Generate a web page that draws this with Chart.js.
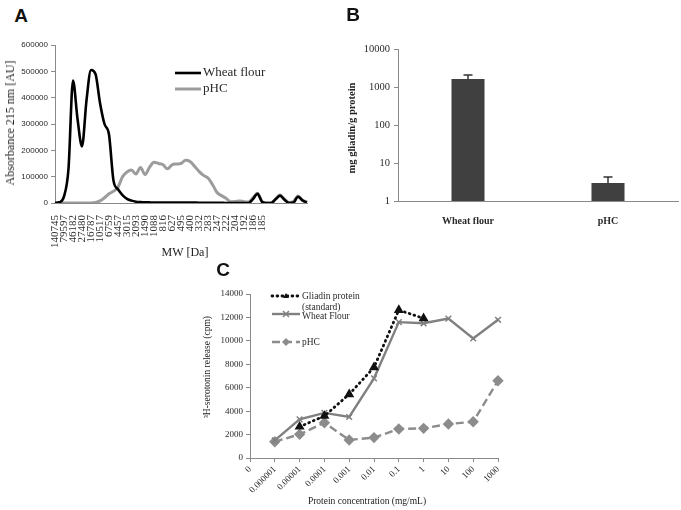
<!DOCTYPE html>
<html><head><meta charset="utf-8">
<script src="https://cdn.jsdelivr.net/npm/chart.js@4.4.1/dist/chart.umd.min.js"></script>
<style>
body{margin:0;width:681px;height:510px;background:#fff;position:relative;overflow:hidden;font-family:"Liberation Serif","Times New Roman",serif;}
canvas{position:absolute;}
.t{position:absolute;white-space:nowrap;color:#222;line-height:1;}
.letter{font-family:"Liberation Sans",Arial,sans-serif;font-weight:bold;font-size:19px;color:#111;}
.rot{transform:translate(-50%,-50%) rotate(-90deg);}
.ctr{transform:translate(-50%,-50%);}
</style></head><body>
<canvas id="cA" width="330" height="240" style="left:0;top:30px"></canvas>
<canvas id="cB" width="351" height="240" style="left:330px;top:0"></canvas>
<canvas id="cC" width="330" height="230" style="left:190px;top:280px"></canvas>

<div class="t letter ctr" style="left:21px;top:15px">A</div>
<div class="t letter ctr" style="left:353px;top:14px">B</div>
<div class="t letter ctr" style="left:223px;top:269px">C</div>
<div class="t rot" style="left:10px;top:123px;font-size:12px">Absorbance 215 nm [AU]</div>
<div class="t ctr" style="left:185px;top:252px;font-size:12px">MW [Da]</div>
<div class="t rot" style="left:352px;top:128px;font-size:10.5px;font-weight:bold">mg gliadin/g protein</div>
<div class="t rot" style="left:208px;top:367px;font-size:9.5px">³H-serotonin release (cpm)</div>
<div class="t ctr" style="left:367px;top:502px;font-size:9.5px">Protein concentration (mg/mL)</div>

<script>
// ---------- Panel A data ----------
const mwLabels = ['140745','79597','46182','27480','16787','10517','6759','4457','3015','2093','1490','1088','816','627','495','400','332','283','247','222','204','192','186','185'];
const wheatFlourA = [0,3000,25000,130000,465000,320000,215000,390000,505000,490000,
  380000,300000,260000,85000,52000,30000,16000,9000,5000,3500,
  2500,2200,2000,2000,2000,1800,1800,1600,1500,1500,
  1400,1300,1200,1200,1100,1000,1000,500,0,0,
  0,0,0,0,15000,35000,5000,0,0,14000,
  28000,12000,0,2000,24000,10000,2000];
const pHCA = [0,0,0,0,0,0,0,0,0,2000,
  8000,20000,35000,45000,60000,100000,118000,125000,110000,135000,
  108000,135000,155000,150000,145000,130000,145000,148000,150000,162000,
  158000,140000,120000,105000,95000,70000,40000,28000,18000,5000,
  6000,8000,5000,4000,20000,37000,5000,0,0,15000,
  30000,15000,2000,5000,27000,10000,5000];
const yTicksA = [0,100000,200000,300000,400000,500000,600000];
const labelsA = wheatFlourA.map((v,i)=> (i%2===0 && mwLabels[i/2]!==undefined) ? mwLabels[i/2] : '');

// ---------- Panel B data ----------
const bCategories = ['Wheat flour','pHC'];
const bValues = [1620, 2.97];
const bErrors = [460, 1.33];
const bTicks = [1,10,100,1000,10000];

// ---------- Panel C data ----------
const cCategories = ['0','0.000001','0.00001','0.0001','0.001','0.01','0.1','1','10','100','1000'];
const gliadinC = [null,null,2670,3590,5440,7740,12630,11920,null,null,null];
const wheatC = [null,1500,3300,3850,3500,6800,11600,11500,11900,10200,11800];
const phcC = [null,1390,2020,3010,1540,1740,2480,2530,2900,3100,6600];
const yTicksC = [0,2000,4000,6000,8000,10000,12000,14000];

const SERIF = '"Liberation Serif","Times New Roman",serif';
const SANS = '"Liberation Sans",Arial,sans-serif';
const AXIS = '#8a8a8a';
const TXT = '#2a2a2a';

function drawMarker(ctx, style, x, y, r, color){
  ctx.save();
  ctx.fillStyle = color; ctx.strokeStyle = color; ctx.lineWidth = 1.5;
  ctx.beginPath();
  if(style==='triangle'){
    ctx.moveTo(x, y-r); ctx.lineTo(x+r, y+r*0.7); ctx.lineTo(x-r, y+r*0.7); ctx.closePath(); ctx.fill();
  } else if(style==='rectRot'){
    ctx.moveTo(x, y-r); ctx.lineTo(x+r, y); ctx.lineTo(x, y+r); ctx.lineTo(x-r, y); ctx.closePath(); ctx.fill();
  } else if(style==='crossRot'){
    const d = r*0.75;
    ctx.moveTo(x-d,y-d); ctx.lineTo(x+d,y+d); ctx.moveTo(x+d,y-d); ctx.lineTo(x-d,y+d); ctx.stroke();
  }
  ctx.restore();
}

// legend plugin factory (reads dataset styles)
function legendPlugin(items, font){
  return {
    id:'customLegend',
    afterDraw(chart){
      const ctx = chart.ctx;
      ctx.save();
      items.forEach(it=>{
        const ds = chart.data.datasets[it.ds];
        ctx.strokeStyle = ds.borderColor;
        ctx.lineWidth = ds.borderWidth;
        ctx.lineCap = ds.borderCapStyle || 'butt';
        ctx.setLineDash(ds.borderDash || []);
        ctx.beginPath(); ctx.moveTo(it.x1, it.y); ctx.lineTo(it.x2, it.y); ctx.stroke();
        ctx.setLineDash([]);
        if(ds.pointStyle && ds.pointRadius>0){
          drawMarker(ctx, ds.pointStyle, (it.x1+it.x2)/2, it.y, ds.pointRadius, ds.pointBackgroundColor || ds.borderColor);
        }
        ctx.fillStyle = TXT; ctx.font = font; ctx.textBaseline = 'middle'; ctx.textAlign='left';
        it.lines.forEach((ln,k)=> ctx.fillText(ln, it.tx, it.ty + k*it.lh));
      });
      ctx.restore();
    }
  };
}

// ---------- Chart A ----------
new Chart(document.getElementById('cA'), {
  type:'line',
  data:{ labels: labelsA, datasets:[
    {label:'Wheat flour', data: wheatFlourA, borderColor:'#000', borderWidth:2.6, pointRadius:0, cubicInterpolationMode:'monotone', fill:false},
    {label:'pHC', data: pHCA, borderColor:'#9c9c9c', borderWidth:3, pointRadius:0, cubicInterpolationMode:'monotone', fill:false}
  ]},
  options:{
    responsive:false, animation:false,
    layout:{padding:{left:0,right:23,top:15,bottom:0}},
    plugins:{legend:{display:false}, tooltip:{enabled:false}},
    scales:{
      x:{ type:'category', offset:false,
        grid:{display:false}, border:{display:true,color:AXIS,width:1},
        ticks:{autoSkip:false, maxRotation:90, minRotation:90, padding:4, color:TXT, font:{family:SERIF,size:11},
          callback:(v,i)=>labelsA[i]},
        afterFit:(s)=>{s.height=67;}
      },
      y:{ min:0, max:600000,
        afterBuildTicks:(ax)=>{ax.ticks = yTicksA.map(v=>({value:v}));},
        grid:{display:true, drawOnChartArea:false, tickLength:4, color:AXIS},
        border:{display:true,color:AXIS,width:1},
        ticks:{padding:3, color:TXT, font:{family:SANS,size:8}, callback:(v)=>String(v)},
        afterFit:(s)=>{s.width=55;}
      }
    }
  },
  plugins:[legendPlugin([
    {ds:0, x1:175, x2:201, y:43, tx:203, ty:43, lh:0, lines:['Wheat flour']},
    {ds:1, x1:175, x2:201, y:59, tx:203, ty:59, lh:0, lines:['pHC']}
  ], '13px '+SERIF)]
});

// ---------- Chart B ----------
const errorBarPlugin = {
  id:'errorBars',
  afterDatasetsDraw(chart){
    const ctx = chart.ctx, meta = chart.getDatasetMeta(0), ys = chart.scales.y;
    ctx.save(); ctx.strokeStyle = '#333'; ctx.lineWidth = 1.5;
    meta.data.forEach((el,i)=>{
      const top = ys.getPixelForValue(bValues[i] + bErrors[i]);
      ctx.beginPath(); ctx.moveTo(el.x, el.y); ctx.lineTo(el.x, top);
      ctx.moveTo(el.x-4.5, top); ctx.lineTo(el.x+4.5, top); ctx.stroke();
    });
    ctx.restore();
  }
};
new Chart(document.getElementById('cB'), {
  type:'bar',
  data:{ labels:bCategories, datasets:[{label:'mg gliadin/g protein', data:bValues, backgroundColor:'#404040', borderWidth:0, categoryPercentage:1, barPercentage:0.236}]},
  options:{
    responsive:false, animation:false,
    layout:{padding:{left:0,right:3,top:49,bottom:0}},
    plugins:{legend:{display:false}, tooltip:{enabled:false}},
    scales:{
      x:{ grid:{display:false}, border:{display:true,color:AXIS,width:1},
        ticks:{padding:6, color:TXT, font:{family:SERIF,size:10,weight:'bold'}},
        afterFit:(s)=>{s.height=39;}
      },
      y:{ type:'logarithmic', min:1, max:10000,
        afterBuildTicks:(ax)=>{ax.ticks = bTicks.map(v=>({value:v}));},
        grid:{display:true, drawOnChartArea:false, tickLength:4, color:AXIS},
        border:{display:true,color:AXIS,width:1},
        ticks:{padding:4, color:TXT, font:{family:SERIF,size:10.5}, callback:(v)=>String(v)},
        afterFit:(s)=>{s.width=68;}
      }
    }
  },
  plugins:[errorBarPlugin]
});

// ---------- Chart C ----------
new Chart(document.getElementById('cC'), {
  type:'line',
  data:{ labels:cCategories, datasets:[
    {label:'Gliadin protein (standard)', data:gliadinC, borderColor:'#111', borderWidth:2.8, borderDash:[0.8,4.2], borderCapStyle:'round', pointStyle:'triangle', pointRadius:3, pointBackgroundColor:'#111', pointBorderColor:'#111', tension:0, fill:false},
    {label:'Wheat Flour', data:wheatC, borderColor:'#808080', borderWidth:2.4, pointStyle:'crossRot', pointRadius:4, pointBorderWidth:1.5, pointBackgroundColor:'#808080', pointBorderColor:'#808080', tension:0, fill:false},
    {label:'pHC', data:phcC, borderColor:'#8c8c8c', borderWidth:2.4, borderDash:[8,4], pointStyle:'rectRot', pointRadius:4, pointBackgroundColor:'#8c8c8c', pointBorderColor:'#8c8c8c', tension:0, fill:false}
  ]},
  options:{
    responsive:false, animation:false,
    layout:{padding:{left:0,right:22,top:14,bottom:0}},
    plugins:{legend:{display:false}, tooltip:{enabled:false}},
    scales:{
      x:{ type:'category', offset:false,
        grid:{display:true, drawOnChartArea:false, tickLength:4, color:AXIS}, border:{display:true,color:AXIS,width:1},
        ticks:{autoSkip:false, maxRotation:45, minRotation:45, padding:2, color:TXT, font:{family:SERIF,size:9}},
        afterFit:(s)=>{s.height=52;}
      },
      y:{ min:0, max:14000,
        afterBuildTicks:(ax)=>{ax.ticks = yTicksC.map(v=>({value:v}));},
        grid:{display:true, drawOnChartArea:false, tickLength:4, color:AXIS},
        border:{display:true,color:AXIS,width:1},
        ticks:{padding:3, color:TXT, font:{family:SERIF,size:9}, callback:(v)=>String(v)},
        afterFit:(s)=>{s.width=60;}
      }
    }
  },
  plugins:[legendPlugin([
    {ds:0, x1:82, x2:110, y:16, tx:112, ty:16, lh:11, lines:['Gliadin protein','(standard)']},
    {ds:1, x1:82, x2:110, y:34, tx:112, ty:36, lh:0, lines:['Wheat Flour']},
    {ds:2, x1:82, x2:110, y:62, tx:112, ty:62, lh:0, lines:['pHC']}
  ], '9.5px '+SERIF)]
});
</script>
</body></html>
